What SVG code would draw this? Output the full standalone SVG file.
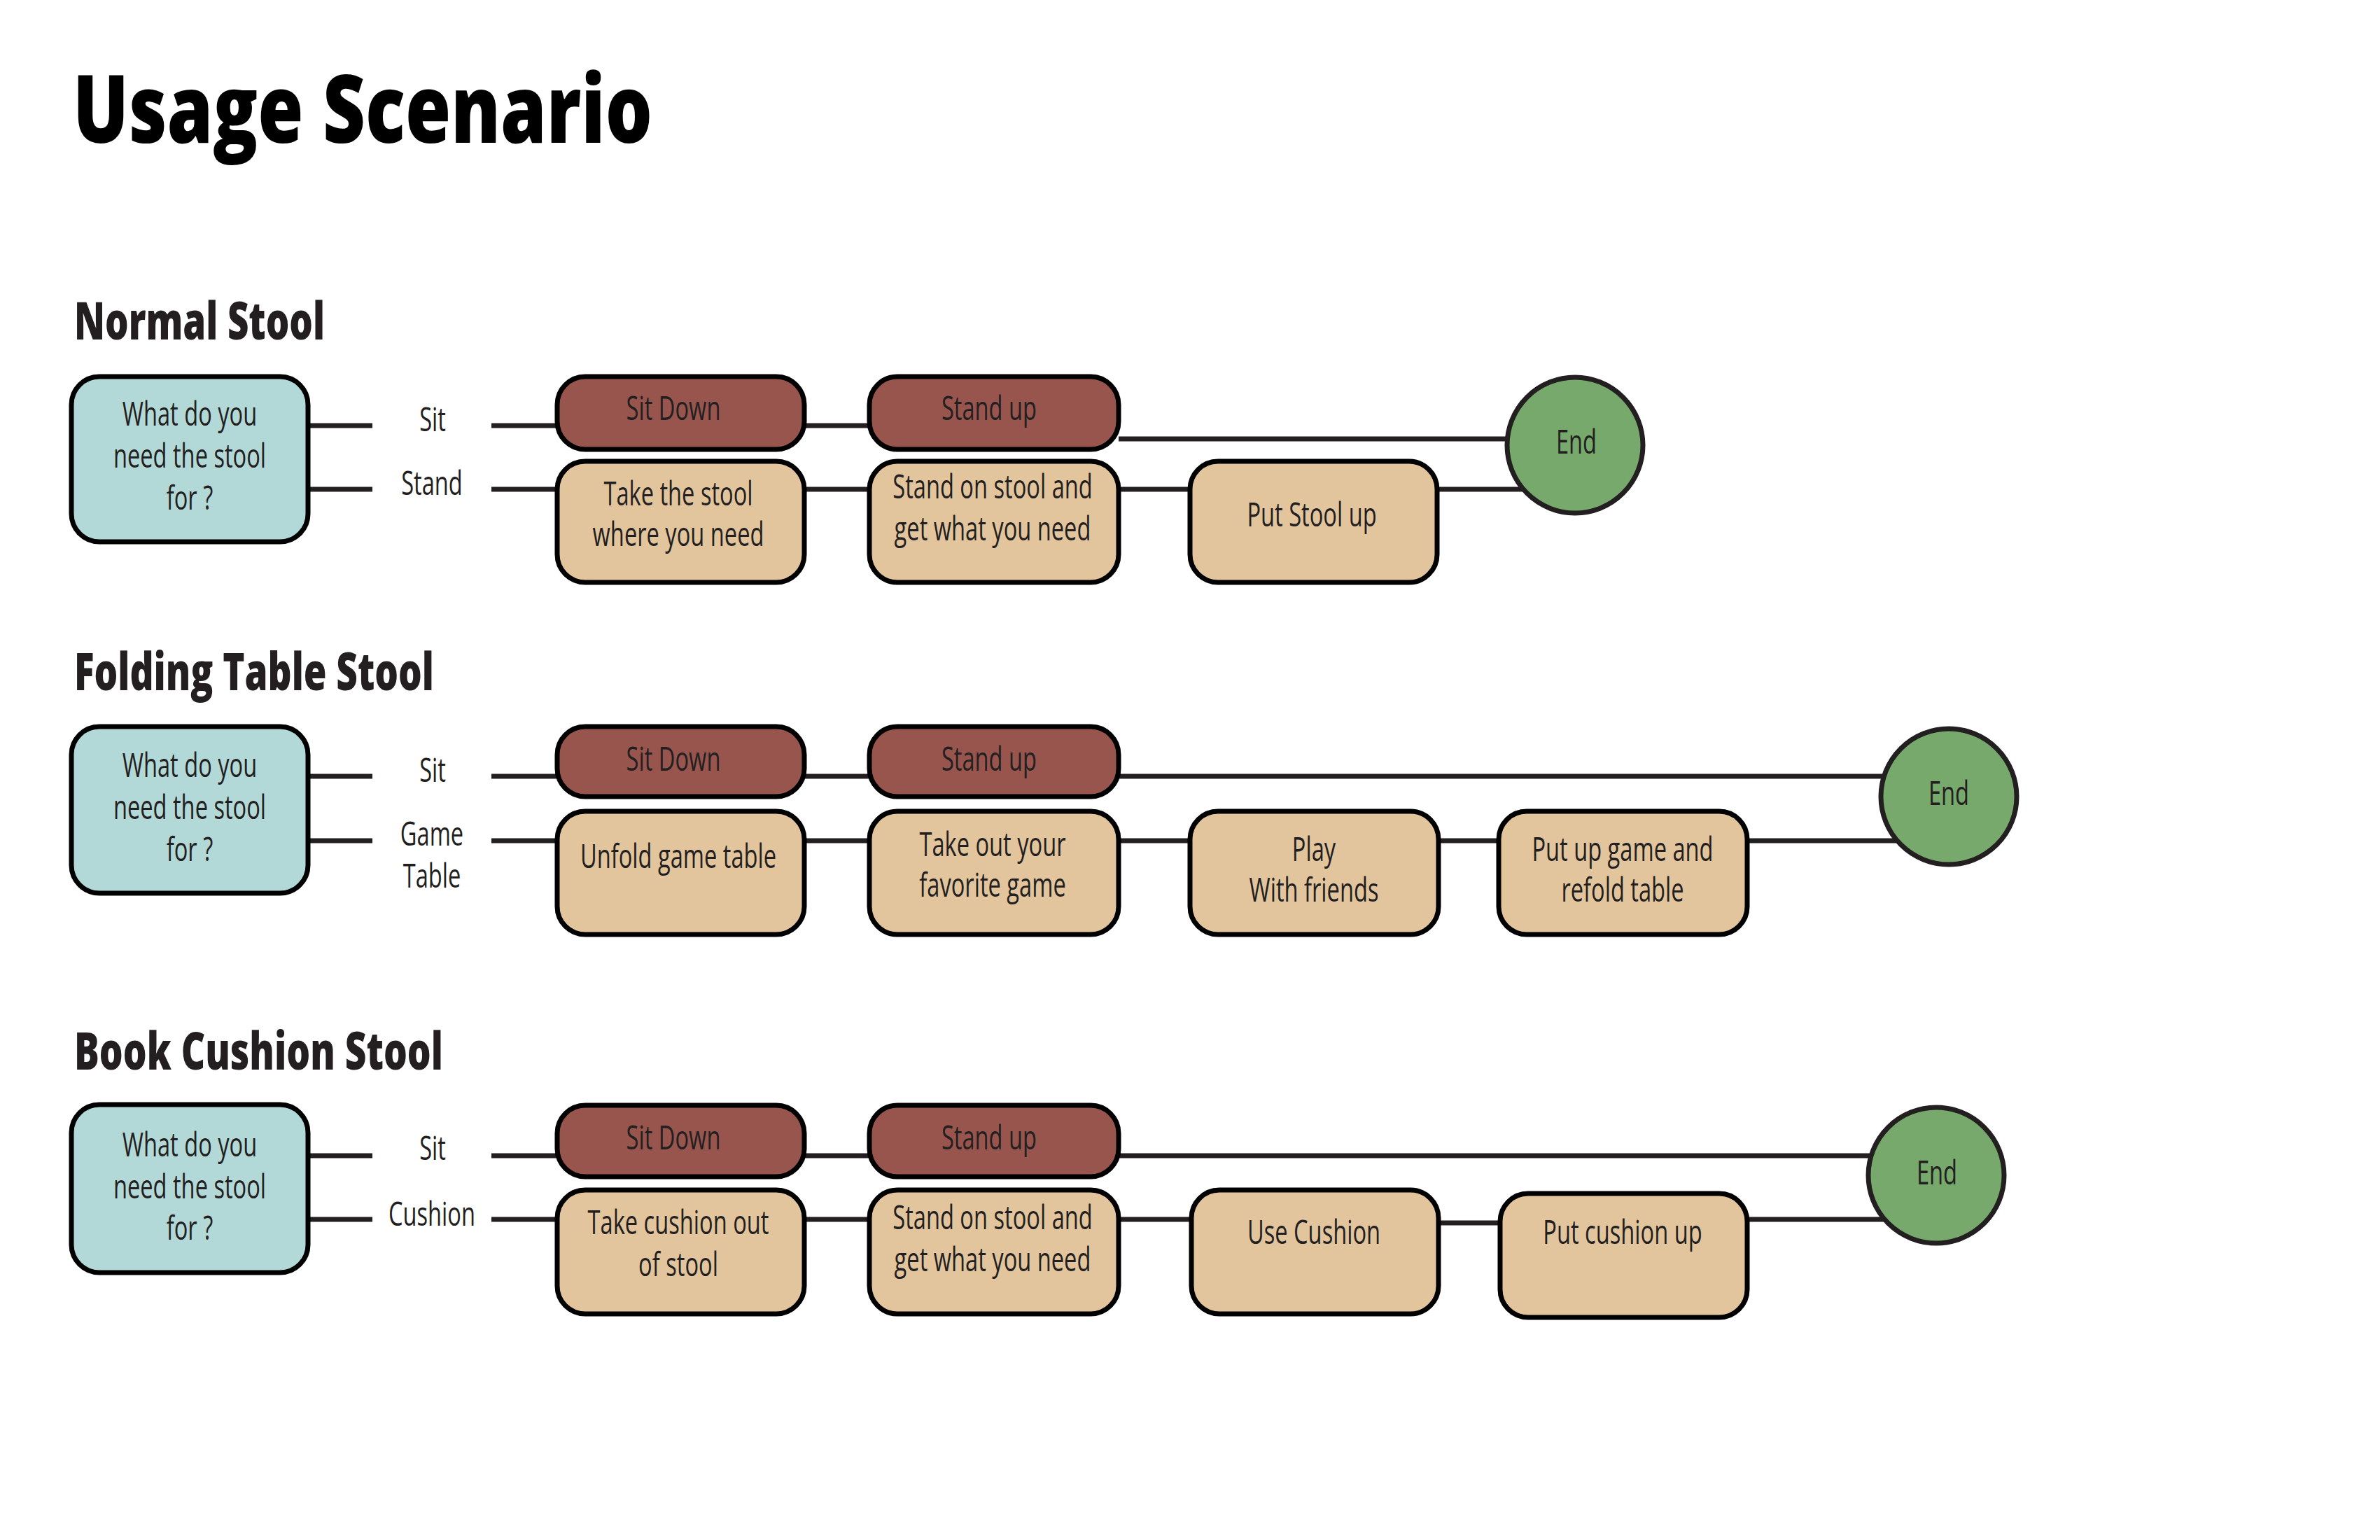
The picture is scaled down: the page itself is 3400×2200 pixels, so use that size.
<svg xmlns="http://www.w3.org/2000/svg" width="3400" height="2200" viewBox="0 0 3400 2200">
<style>
.q{fill:#b2d9d8;stroke:#000;stroke-width:7}
.r{fill:#98554e;stroke:#000;stroke-width:7}
.b{fill:#e2c59d;stroke:#000;stroke-width:7}
.e{fill:#76a96b;stroke:#231f20;stroke-width:7}
.c line{stroke:#231f20;stroke-width:7}
text{font-family:"Open Sans","Liberation Sans",sans-serif;fill:#231f20}
.t{font-size:48px;text-anchor:middle}
.h{font-size:74px;font-weight:800}
.ttl{font-size:134px;font-weight:800;fill:#000}
</style>
<rect width="3400" height="2200" fill="#fff"/>
<text class="ttl" x="104" y="204" textLength="828" lengthAdjust="spacingAndGlyphs">Usage Scenario</text>
<text class="h" x="106" y="485" textLength="358" lengthAdjust="spacingAndGlyphs">Normal Stool</text>
<text class="h" x="106" y="986" textLength="514" lengthAdjust="spacingAndGlyphs">Folding Table Stool</text>
<text class="h" x="106" y="1528" textLength="527" lengthAdjust="spacingAndGlyphs">Book Cushion Stool</text>

<g class="c" id="connectors">
<line x1="440" y1="608" x2="532" y2="608"/><line x1="702" y1="608" x2="796" y2="608"/><line x1="1149" y1="608" x2="1242" y2="608"/><line x1="1598" y1="627" x2="2156" y2="627"/>
<line x1="440" y1="699" x2="532" y2="699"/><line x1="702" y1="699" x2="796" y2="699"/><line x1="1149" y1="699" x2="1242" y2="699"/><line x1="1598" y1="699" x2="1700" y2="699"/><line x1="2053" y1="699" x2="2176" y2="699"/>
<line x1="440" y1="1109" x2="532" y2="1109"/><line x1="702" y1="1109" x2="796" y2="1109"/><line x1="1149" y1="1109" x2="1242" y2="1109"/><line x1="1598" y1="1109" x2="2690" y2="1109"/>
<line x1="440" y1="1201" x2="532" y2="1201"/><line x1="702" y1="1201" x2="796" y2="1201"/><line x1="1149" y1="1201" x2="1242" y2="1201"/><line x1="1598" y1="1201" x2="1700" y2="1201"/><line x1="2055" y1="1201" x2="2141" y2="1201"/><line x1="2496" y1="1201" x2="2710" y2="1201"/>
<line x1="440" y1="1651" x2="532" y2="1651"/><line x1="702" y1="1651" x2="796" y2="1651"/><line x1="1149" y1="1651" x2="1242" y2="1651"/><line x1="1598" y1="1651" x2="2672" y2="1651"/>
<line x1="440" y1="1742" x2="532" y2="1742"/><line x1="702" y1="1742" x2="796" y2="1742"/><line x1="1149" y1="1742" x2="1242" y2="1742"/><line x1="1598" y1="1742" x2="1702" y2="1742"/><line x1="2055" y1="1747" x2="2143" y2="1747"/><line x1="2496" y1="1742" x2="2692" y2="1742"/>
</g>

<g id="labels">
<text class="t" transform="translate(618 616) scale(0.68 1)">Sit</text>
<text class="t" transform="translate(617 707) scale(0.68 1)">Stand</text>
<text class="t" transform="translate(618 1117) scale(0.68 1)">Sit</text>
<text class="t" transform="translate(617 1208) scale(0.68 1)">Game</text>
<text class="t" transform="translate(617 1268) scale(0.68 1)">Table</text>
<text class="t" transform="translate(618 1657) scale(0.68 1)">Sit</text>
<text class="t" transform="translate(617 1751) scale(0.68 1)">Cushion</text>
</g>

<!-- Row 1 -->
<g id="n1-q"><rect class="q" x="102" y="538" width="338" height="236" rx="40"/><text class="t" transform="translate(271 608) scale(0.68 1)">What do you</text><text class="t" transform="translate(271 668) scale(0.68 1)">need the stool</text><text class="t" transform="translate(271 728) scale(0.68 1)">for ?</text></g>
<g id="n1-sit"><rect class="r" x="796" y="538" width="353" height="104" rx="40"/><text class="t" transform="translate(962 600) scale(0.68 1)">Sit Down</text></g>
<g id="n1-standup"><rect class="r" x="1242" y="538" width="356" height="104" rx="40"/><text class="t" transform="translate(1413 600) scale(0.68 1)">Stand up</text></g>
<g id="n1-take"><rect class="b" x="796" y="659" width="353" height="173" rx="40"/><text class="t" transform="translate(969 722) scale(0.68 1)">Take the stool</text><text class="t" transform="translate(969 780) scale(0.68 1)">where you need</text></g>
<g id="n1-standon"><rect class="b" x="1242" y="659" width="356" height="173" rx="40"/><text class="t" transform="translate(1418 712) scale(0.68 1)">Stand on stool and</text><text class="t" transform="translate(1418 772) scale(0.68 1)">get what you need</text></g>
<g id="n1-put"><rect class="b" x="1700" y="659" width="353" height="173" rx="40"/><text class="t" transform="translate(1874 752) scale(0.68 1)">Put Stool up</text></g>
<g id="n1-end"><circle class="e" cx="2250" cy="636" r="97"/><text class="t" transform="translate(2252 648) scale(0.68 1)">End</text></g>

<!-- Row 2 -->
<g id="n2-q"><rect class="q" x="102" y="1038" width="338" height="238" rx="40"/><text class="t" transform="translate(271 1110) scale(0.68 1)">What do you</text><text class="t" transform="translate(271 1170) scale(0.68 1)">need the stool</text><text class="t" transform="translate(271 1230) scale(0.68 1)">for ?</text></g>
<g id="n2-sit"><rect class="r" x="796" y="1038" width="353" height="100" rx="40"/><text class="t" transform="translate(962 1101) scale(0.68 1)">Sit Down</text></g>
<g id="n2-standup"><rect class="r" x="1242" y="1038" width="356" height="100" rx="40"/><text class="t" transform="translate(1413 1101) scale(0.68 1)">Stand up</text></g>
<g id="n2-unfold"><rect class="b" x="796" y="1159" width="353" height="176" rx="40"/><text class="t" transform="translate(969 1240) scale(0.68 1)">Unfold game table</text></g>
<g id="n2-takeout"><rect class="b" x="1242" y="1159" width="356" height="176" rx="40"/><text class="t" transform="translate(1418 1223) scale(0.68 1)">Take out your</text><text class="t" transform="translate(1418 1281) scale(0.68 1)">favorite game</text></g>
<g id="n2-play"><rect class="b" x="1700" y="1159" width="355" height="176" rx="40"/><text class="t" transform="translate(1877 1230) scale(0.68 1)">Play</text><text class="t" transform="translate(1877 1288) scale(0.68 1)">With friends</text></g>
<g id="n2-putup"><rect class="b" x="2141" y="1159" width="355" height="176" rx="40"/><text class="t" transform="translate(2318 1230) scale(0.68 1)">Put up game and</text><text class="t" transform="translate(2318 1288) scale(0.68 1)">refold table</text></g>
<g id="n2-end"><circle class="e" cx="2784" cy="1138" r="97"/><text class="t" transform="translate(2784 1150) scale(0.68 1)">End</text></g>

<!-- Row 3 -->
<g id="n3-q"><rect class="q" x="102" y="1578" width="338" height="240" rx="40"/><text class="t" transform="translate(271 1652) scale(0.68 1)">What do you</text><text class="t" transform="translate(271 1712) scale(0.68 1)">need the stool</text><text class="t" transform="translate(271 1771) scale(0.68 1)">for ?</text></g>
<g id="n3-sit"><rect class="r" x="796" y="1579" width="353" height="102" rx="40"/><text class="t" transform="translate(962 1642) scale(0.68 1)">Sit Down</text></g>
<g id="n3-standup"><rect class="r" x="1242" y="1579" width="356" height="102" rx="40"/><text class="t" transform="translate(1413 1642) scale(0.68 1)">Stand up</text></g>
<g id="n3-take"><rect class="b" x="796" y="1700" width="353" height="177" rx="40"/><text class="t" transform="translate(969 1763) scale(0.68 1)">Take cushion out</text><text class="t" transform="translate(969 1823) scale(0.68 1)">of stool</text></g>
<g id="n3-standon"><rect class="b" x="1242" y="1700" width="356" height="177" rx="40"/><text class="t" transform="translate(1418 1756) scale(0.68 1)">Stand on stool and</text><text class="t" transform="translate(1418 1816) scale(0.68 1)">get what you need</text></g>
<g id="n3-use"><rect class="b" x="1702" y="1700" width="353" height="177" rx="40"/><text class="t" transform="translate(1877 1777) scale(0.68 1)">Use Cushion</text></g>
<g id="n3-putup"><rect class="b" x="2143" y="1705" width="353" height="177" rx="40"/><text class="t" transform="translate(2318 1777) scale(0.68 1)">Put cushion up</text></g>
<g id="n3-end"><circle class="e" cx="2766" cy="1679" r="97"/><text class="t" transform="translate(2767 1692) scale(0.68 1)">End</text></g>
</svg>
